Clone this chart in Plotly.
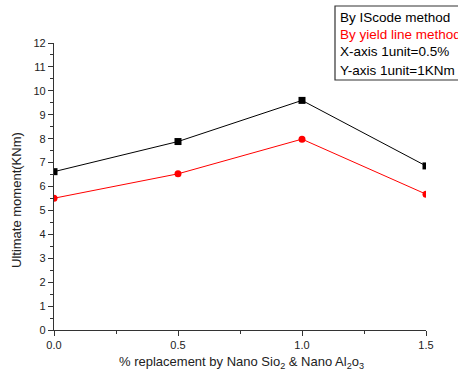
import plotly.graph_objects as go

x_vals = [0.0, 0.5, 1.0, 1.5]
iscode = [6.62, 7.88, 9.60, 6.86]
yield_line = [5.51, 6.53, 7.98, 5.68]
x_ticks = [0.0, 0.5, 1.0, 1.5]
x_tick_labels = ["0.0", "0.5", "1.0", "1.5"]
y_ticks = list(range(0, 13))
legend_lines = [
    ("By IScode method", "black"),
    ("By yield line method", "red"),
    ("X-axis 1unit=0.5%", "black"),
    ("Y-axis 1unit=1KNm", "black"),
]

font = "Liberation Sans, Arial, sans-serif"

fig = go.Figure()
fig.add_trace(go.Scatter(x=x_vals, y=iscode, mode="lines+markers",
                         line=dict(color="black", width=1),
                         marker=dict(symbol="square", size=7, color="black"),
                         cliponaxis=True, showlegend=False))
fig.add_trace(go.Scatter(x=x_vals, y=yield_line, mode="lines+markers",
                         line=dict(color="red", width=1),
                         marker=dict(symbol="circle", size=7, color="red"),
                         cliponaxis=True, showlegend=False))

fig.update_layout(
    width=458, height=379,
    margin=dict(l=54, r=32, t=43, b=49),
    plot_bgcolor="white", paper_bgcolor="white",
    font=dict(family=font, size=11, color="#222"),
    showlegend=False,
)
fig.update_xaxes(range=[0, 1.5], tickvals=x_ticks, ticktext=x_tick_labels,
                 ticks="outside", ticklen=5, tickcolor="#333", tickwidth=1,
                 showline=True, linecolor="#333", linewidth=1.2, showgrid=False,
                 zeroline=False, minor=dict(dtick=0.25, ticks="outside", ticklen=3, tickcolor="#333"),
                 tickfont=dict(size=11, color="#222"))
fig.update_yaxes(range=[0, 12], tickvals=y_ticks,
                 ticks="outside", ticklen=5, tickcolor="#333", tickwidth=1,
                 showline=True, linecolor="#333", linewidth=1.2, showgrid=False,
                 zeroline=False, minor=dict(dtick=0.5, ticks="outside", ticklen=3, tickcolor="#333"),
                 tickfont=dict(size=11, color="#222"))

# axis titles
fig.add_annotation(text="% replacement by Nano Sio<sub>2</sub> & Nano Al<sub>2</sub>o<sub>3</sub>",
                   xref="paper", yref="paper", x=(241 - 54) / 372, y=-(362 - 330) / 287,
                   xanchor="center", yanchor="middle", showarrow=False,
                   font=dict(size=13, color="#222"))
fig.add_annotation(text="Ultimate moment(KNm)", textangle=-90,
                   xref="paper", yref="paper", x=-(54 - 17) / 372, y=(330 - 200) / 287,
                   xanchor="center", yanchor="middle", showarrow=False,
                   font=dict(size=13, color="#222"))

# legend box
px = lambda X: (X - 54) / 372
py = lambda Y: (330 - Y) / 287
fig.add_shape(type="rect", xref="paper", yref="paper",
              x0=px(335), x1=px(470), y0=py(80), y1=py(6),
              line=dict(color="#333", width=1.2), fillcolor="white")
ys = [17, 34.5, 52, 70]
for (t, c), Y in zip(legend_lines, ys):
    fig.add_annotation(text=t, xref="paper", yref="paper", x=px(338), y=py(Y),
                       xanchor="left", yanchor="middle", showarrow=False,
                       font=dict(size=13.5, color=c))

fig.write_html("out.html", config={"displayModeBar": False},
               post_script="document.body.style.margin='0';")
